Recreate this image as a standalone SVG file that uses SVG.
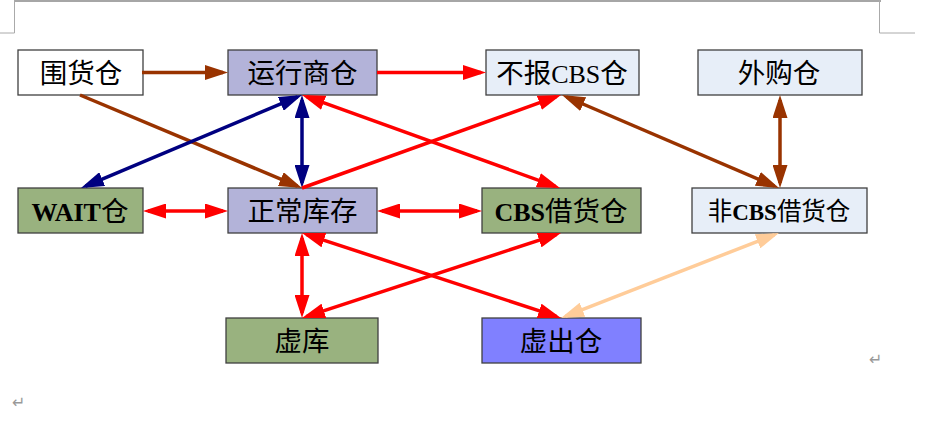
<svg xmlns="http://www.w3.org/2000/svg" width="942" height="425" viewBox="0 0 942 425">
<style>
.n{stroke:#404040;stroke-width:1.3}
.t{font-family:"Liberation Serif","Noto Sans CJK SC",serif;font-size:27.5px;fill:#000;text-anchor:middle}
.l{font-size:26px}
.b{font-weight:bold;font-size:26px}
.c{fill:none;stroke-width:3.5;stroke-linecap:butt}
.br{stroke:#993300}
.nv{stroke:#000080}
.rd{stroke:#ff0000}
.pc{stroke:#ffcc99}
.pm{font-family:"DejaVu Sans",sans-serif;font-size:16px;fill:#999}
</style>
<defs>
<marker id="aBr" markerUnits="userSpaceOnUse" markerWidth="23" markerHeight="15" refX="18" refY="7.5" orient="auto-start-reverse"><path d="M0,0 L23,7.5 L0,15 z" fill="#993300"/></marker>
<marker id="aNv" markerUnits="userSpaceOnUse" markerWidth="23" markerHeight="15" refX="18" refY="7.5" orient="auto-start-reverse"><path d="M0,0 L23,7.5 L0,15 z" fill="#000080"/></marker>
<marker id="aRd" markerUnits="userSpaceOnUse" markerWidth="23" markerHeight="15" refX="18" refY="7.5" orient="auto-start-reverse"><path d="M0,0 L23,7.5 L0,15 z" fill="#ff0000"/></marker>
<marker id="aPc" markerUnits="userSpaceOnUse" markerWidth="23" markerHeight="15" refX="18" refY="7.5" orient="auto-start-reverse"><path d="M0,0 L23,7.5 L0,15 z" fill="#ffcc99"/></marker>
</defs>
<rect width="942" height="425" fill="#fff"/>
<g id="page-marks" fill="none">
<path d="M14.5,1 H881" stroke="#888" stroke-width="1.5"/>
<path d="M14.5,0 V33 H0" stroke="#aaa" stroke-width="1"/>
<path d="M879.5,0 V33 H915" stroke="#aaa" stroke-width="1"/>
<text class="pm" x="869" y="365">↵</text>
<text class="pm" x="12" y="408">↵</text>
</g>
<g id="n-weihuo"><rect class="n" x="18" y="50" width="125" height="45" fill="#ffffff"/><text class="t" x="81" y="82.5">围货仓</text></g>
<g id="n-yunxing"><rect class="n" x="228" y="50" width="149" height="45" fill="#b3b3d9"/><text class="t" x="302.5" y="82.5">运行商仓</text></g>
<g id="n-bubao"><rect class="n" x="486" y="50" width="153" height="45" fill="#e7eef8"/><text class="t" x="562" y="82.5">不报<tspan class="l">CBS</tspan>仓</text></g>
<g id="n-waigou"><rect class="n" x="698" y="50" width="164" height="45" fill="#e7eef8"/><text class="t" x="779" y="82.5">外购仓</text></g>
<g id="n-wait"><rect class="n" x="18" y="188" width="125" height="45" fill="#99b27f"/><text class="t" x="80" y="221"><tspan class="b">WAIT</tspan>仓</text></g>
<g id="n-zhengchang"><rect class="n" x="228" y="188" width="149" height="45" fill="#b3b3d9"/><text class="t" x="302.5" y="221">正常库存</text></g>
<g id="n-cbsjie"><rect class="n" x="482" y="188" width="159" height="45" fill="#99b27f"/><text class="t" x="561" y="221"><tspan class="b">CBS</tspan>借货仓</text></g>
<g id="n-feicbs"><rect class="n" x="692" y="188" width="175" height="45" fill="#e7eef8"/><text class="t" x="779" y="220" style="font-size:24.5px">非<tspan class="b" style="font-size:23px">CBS</tspan>借货仓</text></g>
<g id="n-xuku"><rect class="n" x="226" y="318" width="152" height="45" fill="#99b27f"/><text class="t" x="302" y="351">虚库</text></g>
<g id="n-xuchu"><rect class="n" x="482" y="318" width="159" height="45" fill="#8080ff"/><text class="t" x="561" y="351">虚出仓</text></g>
<g id="connectors">
<line class="c br" x1="142" y1="72.5" x2="223" y2="72.5" marker-end="url(#aBr)"/>
<line class="c rd" x1="377" y1="72.5" x2="481" y2="72.5" marker-end="url(#aRd)"/>
<line class="c br" x1="80" y1="95" x2="297.4" y2="186.1" marker-end="url(#aBr)"/>
<line class="c nv" x1="297.4" y1="96.9" x2="85.6" y2="186.1" marker-start="url(#aNv)" marker-end="url(#aNv)"/>
<line class="c nv" x1="302" y1="100" x2="302" y2="183" marker-start="url(#aNv)" marker-end="url(#aNv)"/>
<line class="c rd" x1="306.7" y1="96.7" x2="555.3" y2="186.3" marker-start="url(#aRd)" marker-end="url(#aRd)"/>
<line class="c rd" x1="302" y1="188" x2="556.3" y2="96.7" marker-end="url(#aRd)"/>
<line class="c br" x1="566.6" y1="97" x2="774.4" y2="186" marker-start="url(#aBr)" marker-end="url(#aBr)"/>
<line class="c br" x1="780" y1="100" x2="780" y2="183" marker-start="url(#aBr)" marker-end="url(#aBr)"/>
<line class="c rd" x1="148" y1="211" x2="223" y2="211" marker-start="url(#aRd)" marker-end="url(#aRd)"/>
<line class="c rd" x1="382" y1="211" x2="477" y2="211" marker-start="url(#aRd)" marker-end="url(#aRd)"/>
<line class="c rd" x1="302" y1="238" x2="302" y2="313" marker-start="url(#aRd)" marker-end="url(#aRd)"/>
<line class="c rd" x1="306.75" y1="234.6" x2="556.25" y2="316.4" marker-start="url(#aRd)" marker-end="url(#aRd)"/>
<line class="c rd" x1="306.75" y1="316.4" x2="556.25" y2="234.6" marker-start="url(#aRd)" marker-end="url(#aRd)"/>
<line class="c pc" x1="774.3" y1="234.8" x2="565.7" y2="316.2" marker-start="url(#aPc)" marker-end="url(#aPc)"/>
</g>
</svg>
